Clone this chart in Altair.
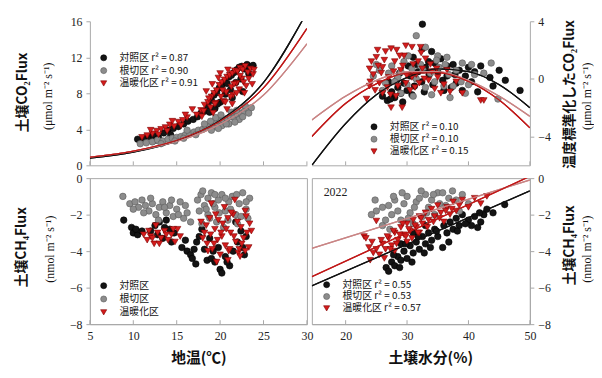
import altair as alt
import pandas as pd

GROUPS = ["対照区", "根切区", "温暖化区"]

# ---------------- Top-left: soil temperature vs soil CO2 flux ----------------
tl_ctrl_x = [10.5, 11.2, 11.8, 12.3, 12.9, 13.5, 14.0, 14.6, 15.2, 15.8, 16.3, 16.9, 17.4, 17.8,
             18.2, 18.6, 19.0, 19.3, 19.6, 19.9, 20.2, 20.5, 20.8, 21.0, 21.3, 21.6, 21.9, 22.2,
             22.5, 22.8, 23.1, 23.4, 23.8, 20.0, 20.6, 21.2, 21.8, 22.4, 19.4, 18.8,
             19.7, 21.4, 22.6, 23.3, 12.6, 14.3]
tl_ctrl_y = [2.9, 3.0, 3.2, 3.3, 3.1, 3.6, 3.9, 4.1, 4.3, 4.6, 4.9, 5.1, 5.4, 5.8,
             6.0, 6.6, 7.2, 7.8, 8.1, 8.6, 8.9, 9.3, 9.1, 9.8, 10.0, 10.3, 10.6, 10.9,
             11.0, 10.7, 11.2, 10.9, 11.1, 7.0, 7.9, 8.4, 9.2, 9.6, 6.3, 5.9,
             6.8, 7.5, 8.2, 10.2, 2.8, 3.4]
tl_root_x = [10.8, 11.5, 12.2, 12.8, 13.4, 14.0, 14.5, 15.0, 15.5, 16.0, 16.5, 17.0, 17.5, 18.0,
             18.4, 18.8, 19.2, 19.6, 20.0, 20.4, 20.8, 21.2, 21.6, 22.0, 22.4, 22.8, 23.2, 23.6,
             19.0, 20.2, 21.0, 22.2, 17.2, 15.8,
             18.2, 18.9, 19.5, 20.1, 20.7, 21.3, 21.9, 22.6, 23.3, 19.8, 21.7, 22.9, 13.2, 14.8, 16.2]
tl_root_y = [2.4, 2.5, 2.6, 2.8, 2.7, 2.9, 3.0, 3.1, 3.2, 3.4, 3.5, 3.7, 3.9, 4.0,
             4.2, 4.4, 4.3, 4.7, 4.9, 5.0, 5.2, 5.4, 5.3, 5.6, 5.8, 6.0, 6.2, 6.4,
             3.9, 4.4, 4.6, 5.1, 3.4, 3.0,
             4.6, 4.9, 5.3, 5.6, 4.6, 5.9, 6.1, 5.4, 5.8, 4.1, 4.8, 6.6, 2.4, 2.7, 3.9]
tl_warm_x = [11.0, 11.6, 12.2, 12.7, 13.2, 13.7, 14.2, 14.7, 15.2, 15.7, 16.2, 16.8, 17.3, 17.8,
             18.2, 18.6, 19.0, 19.3, 19.6, 19.9, 20.2, 20.5, 20.8, 21.1, 21.4, 21.7, 22.0, 22.3,
             22.6, 22.9, 23.2, 23.5, 23.8, 19.5, 20.1, 20.7, 21.3, 21.9, 22.5, 18.9, 20.4, 21.5, 22.2,
             18.4, 18.7, 19.1, 19.4, 19.8, 20.0, 20.3, 20.6, 20.9, 21.2, 21.6, 21.9, 22.3, 22.7,
             23.0, 23.3, 23.7, 19.2, 20.8, 21.4, 22.8, 23.9, 17.9, 18.1,
             12.0, 12.9, 13.9, 14.5, 15.5, 16.0]
tl_warm_y = [3.1, 3.3, 3.5, 3.8, 4.0, 4.2, 4.5, 4.3, 4.8, 5.0, 5.3, 6.2, 5.6, 6.1,
             6.7, 7.0, 7.6, 8.0, 8.3, 8.9, 9.2, 9.5, 9.8, 10.0, 10.2, 10.5, 10.4, 10.8,
             10.6, 11.0, 10.3, 10.7, 10.1, 6.9, 7.6, 8.1, 8.7, 9.1, 9.6, 6.4, 7.1, 7.8, 8.4,
             8.2, 7.4, 9.0, 6.8, 9.7, 10.2, 8.3, 7.0, 10.6, 7.6, 9.0, 8.0, 9.9, 9.2,
             8.8, 9.6, 9.0, 5.8, 6.2, 6.8, 8.0, 10.6, 5.4, 6.0,
             3.9, 3.4, 3.8, 4.9, 4.4, 5.6]
tl_fit_x = [5, 10, 15, 20, 25, 30]
tl_fit_ctrl = [0.8, 1.47, 2.7, 5.0, 9.2, 17.0]
tl_fit_root = [0.9, 1.55, 2.65, 4.55, 7.8, 13.5]
tl_fit_warm = [0.9, 1.58, 2.78, 4.9, 8.6, 15.2]
tl_legend = ["対照区 r² = 0.87", "根切区 r² = 0.90", "温暖化区 r² = 0.91"]

# ---------------- Top-right: soil moisture vs normalised CO2 flux ----------------
tr_ctrl_x = [32.5, 32.5, 34.0, 31.0, 33.5, 35.5, 36.5, 37.5, 38.5, 40.0, 42.0, 43.5, 46.0, 48.4, 45.0,
             26.0, 26.8, 27.5, 28.0, 28.5, 29.0, 29.5, 30.0, 30.5, 31.2, 31.8, 32.4, 33.0, 33.6,
             34.2, 35.0, 35.8, 36.5, 37.2, 38.0, 39.0, 40.5, 41.5, 27.0, 28.8, 30.2,
             27.3, 28.3, 29.3, 30.8, 31.5, 32.8, 34.5, 36.0, 37.8, 39.5, 41.0, 44.0]
tr_ctrl_y = [3.8, 2.1, 1.9, 1.5, 1.2, 1.4, 0.9, 1.0, 0.6, 0.8, 0.9, 0.1, -0.1, -0.8, 0.6,
             -1.2, -1.5, -0.9, -1.3, -0.6, -1.0, -0.3, -0.8, 0.2, -0.5, 0.5, -0.2, 0.8, 0.3,
             -0.4, 0.5, -0.1, 0.2, -0.6, -0.3, -0.8, -0.2, -0.9, -0.2, 0.4, 0.9,
             -1.4, -0.1, -1.6, -1.1, 1.0, -0.9, 1.1, -0.8, 0.3, 0.2, 0.5, -0.5]
tr_root_x = [31.5, 33.0, 35.0, 36.5, 39.0, 43.7, 41.0, 44.8, 37.5,
             24.5, 25.5, 26.5, 27.5, 28.5, 29.5, 30.0, 30.8, 31.5, 32.2, 33.0, 33.8, 34.5,
             35.2, 36.0, 36.8, 38.0, 38.8, 40.0, 29.0, 31.0, 34.0, 39.5,
             25.0, 26.0, 27.0, 28.0, 29.0, 30.2, 32.6, 34.8, 36.2, 37.0, 40.5, 42.5]
tr_root_y = [3.0, 2.2, 1.6, 1.5, 1.1, 1.1, 0.3, -1.4, -0.5,
             0.2, 0.6, -0.3, 0.9, 0.1, 1.2, -0.4, 0.7, 0.0, 1.0, -0.6, 0.4, -0.2,
             0.8, -0.5, 0.3, 0.6, -0.2, -0.4, -1.0, -1.2, -1.1, -1.0,
             1.0, -0.8, 0.4, -0.2, 0.5, 1.6, 0.6, 1.3, 1.0, -1.3, 1.0, 0.4]
tr_warm_x = [23.4, 23.9, 23.9, 24.5, 25.0, 25.5, 26.0, 26.5, 27.0, 27.4, 27.4, 28.0, 28.5, 29.0,
             29.2, 29.5, 30.0, 30.5, 31.0, 31.5, 32.0, 32.5, 33.0, 33.5, 34.0, 34.5, 35.0, 36.0,
             37.0, 38.0, 39.0, 42.0, 42.5, 25.2, 26.0, 28.2, 24.2, 30.8, 36.5,
             24.8, 25.8, 26.8, 27.8, 28.8, 29.8, 30.8, 31.8, 32.8, 33.8, 26.3, 27.3, 28.3, 29.3,
             31.3, 32.3, 25.3, 34.8, 35.5, 24.0, 29.8, 32.2]
tr_warm_y = [-1.4, -0.5, 0.7, 0.3, 1.5, -0.3, 0.8, 1.9, 0.1, 2.1, -2.0, 1.2, -0.5, 0.6,
             -2.0, 1.6, 0.2, -0.8, 1.0, 0.3, -0.3, 0.7, 1.4, -0.1, 0.5, -0.7, 0.1, -0.4,
             -0.9, -0.2, -1.0, -1.5, -1.5, 2.0, -1.0, -1.2, 1.2, 2.2, 0.6,
             -0.8, 0.4, -0.6, 0.5, 1.6, -0.3, 0.1, 1.2, 0.0, 1.0, 1.3, -1.1, 2.0, 0.9,
             -0.6, 1.8, 0.9, 0.7, -1.0, -0.2, 2.3, 2.2]
tr_fit_x = [14.5, 20, 25, 30, 35, 40, 45, 50]
tr_fit_ctrl = [-6.0, -3.1, -1.1, 0.1, 0.7, 0.5, -0.4, -2.0]
tr_fit_root = [-2.85, -1.2, -0.1, 0.5, 0.5, -0.1, -1.2, -2.6]
tr_fit_warm = [-4.0, -1.7, -0.34, 0.39, 0.44, -0.18, -1.47, -3.4]
tr_legend = ["対照区 r² = 0.10", "根切区 r² = 0.10", "温暖化区 r² = 0.15"]

# ---------------- Bottom-left: soil temperature vs soil CH4 flux ----------------
bl_ctrl_x = [8.9, 9.8, 10.0, 10.5, 11.0, 10.3, 12.0, 12.5, 13.0, 13.4, 13.8, 14.2, 14.7,
             15.6, 16.2, 16.6, 16.8, 17.0, 17.3, 17.6, 17.9, 18.5, 19.0, 19.4, 20.0, 20.2,
             21.1, 20.6, 19.8, 18.8, 21.5, 22.0, 22.6, 23.0, 22.4, 21.8, 18.2,
             12.8, 13.6, 14.4, 16.0, 17.2, 19.2, 20.8, 22.8]
bl_ctrl_y = [-2.3, -2.7, -3.0, -3.1, -2.9, -2.8, -2.9, -2.6, -2.4, -3.3, -2.3, -2.8, -3.0,
             -3.8, -4.0, -4.2, -4.4, -3.9, -3.5, -3.2, -2.8, -4.5, -4.4, -4.6, -5.0, -5.2,
             -4.8, -4.3, -3.8, -3.3, -4.0, -3.5, -3.8, -3.2, -2.9, -2.4, -3.9,
             -3.1, -2.7, -3.5, -3.4, -4.7, -4.0, -4.6, -4.2]
bl_root_x = [8.8, 9.6, 10.2, 10.6, 11.0, 11.4, 11.8, 12.2, 12.6, 13.0, 13.4, 13.8, 14.2, 14.6,
             15.0, 15.4, 15.8, 16.2, 16.6, 17.4, 17.8, 18.2, 18.6, 19.0, 19.4, 19.8, 20.2,
             20.6, 21.0, 21.4, 21.8, 22.2, 22.6, 23.0, 23.4, 18.6, 19.6, 20.4, 22.0, 23.2,
             17.6, 18.0, 18.8, 19.2, 19.9, 20.6, 21.2, 21.9, 22.4, 23.0, 20.9, 19.4, 18.4, 17.9,
             10.0, 11.2, 12.0, 12.9, 13.6, 14.4, 15.2, 16.0]
bl_root_y = [-1.0, -1.4, -1.3, -1.6, -1.2, -1.5, -1.8, -1.4, -2.0, -1.6, -1.3, -1.9, -1.5, -2.1,
             -1.7, -1.3, -2.2, -1.9, -2.4, -1.2, -0.9, -1.5, -1.1, -0.8, -1.6, -1.2, -0.9,
             -1.8, -1.3, -1.0, -2.0, -1.4, -0.8, -1.7, -1.1, -2.0, -2.4, -2.7, -2.5, -2.2,
             -1.8, -0.7, -2.2, -1.4, -1.9, -1.1, -1.7, -0.9, -2.1, -1.3, -2.3, -0.9, -1.7, -2.5,
             -1.7, -1.9, -1.1, -2.3, -1.6, -1.2, -2.0, -1.5]
bl_warm_x = [11.2, 11.6, 12.0, 12.4, 12.8, 13.2, 13.6, 14.0, 14.4, 14.8, 15.1, 12.6,
             17.8, 18.2, 18.5, 18.8, 19.1, 19.4, 19.7, 20.0, 20.3, 20.6, 20.9, 21.2, 21.5,
             21.8, 22.1, 22.4, 22.7, 23.0, 23.3, 23.6, 19.0, 20.5, 21.7, 22.9, 19.6, 21.0, 22.2,
             18.0, 18.4, 18.9, 19.3, 19.8, 20.2, 20.7, 21.1, 21.6, 22.0, 22.5, 22.9, 23.4,
             19.5, 20.9, 22.3, 21.3, 18.6, 20.1, 23.1,
             11.8, 12.2, 13.0, 13.8, 14.6, 15.4]
bl_warm_y = [-3.1, -3.4, -3.2, -3.6, -3.0, -3.3, -2.9, -3.4, -3.1, -3.5, -2.8, -2.6,
             -2.4, -3.0, -3.6, -2.2, -3.9, -2.8, -3.4, -4.2, -2.5, -3.7, -4.5, -3.0, -2.0,
             -3.5, -4.1, -2.7, -3.3, -2.1, -3.8, -2.9, -1.4, -1.6, -1.2, -1.8, -4.6, -4.0, -3.9,
             -3.3, -2.6, -3.1, -3.6, -2.3, -3.2, -2.8, -3.9, -3.2, -2.4, -3.6, -4.0, -2.5,
             -2.0, -2.2, -4.3, -1.9, -4.0, -3.0, -3.0,
             -2.9, -3.3, -3.6, -3.1, -2.8, -3.2]
bl_legend = ["対照区", "根切区", "温暖化区"]

# ---------------- Bottom-right: soil moisture vs soil CH4 flux ----------------
br_ctrl_x = [26.6, 27.0, 27.5, 28.0, 28.5, 29.0, 29.5, 30.0, 30.5, 31.0, 31.5, 32.0, 32.5, 33.0,
             33.5, 34.0, 34.5, 35.0, 35.8, 36.0, 36.5, 37.0, 37.5, 38.0, 38.5, 39.0, 40.0,
             40.5, 41.0, 41.5, 42.0, 42.5, 43.0, 44.0, 45.9, 29.0, 31.0, 33.0,
             27.8, 28.8, 29.8, 30.8, 31.8, 32.8, 33.8, 34.8, 36.8, 38.2, 39.5, 41.8]
br_ctrl_y = [-4.9, -5.1, -4.6, -4.8, -4.3, -4.5, -4.0, -4.4, -3.7, -4.1, -3.5, -3.9, -3.2, -3.6,
             -3.0, -3.4, -2.8, -3.2, -3.8, -2.6, -3.0, -2.4, -2.8, -2.2, -2.6, -2.0, -2.3,
             -2.6, -2.1, -2.7, -2.4, -2.0, -1.7, -1.9, -1.45, -3.6, -3.0, -2.6,
             -4.2, -4.9, -3.6, -4.6, -3.2, -4.1, -3.8, -2.9, -3.5, -2.9, -2.5, -1.9]
br_root_x = [25.0, 26.0, 27.0, 27.5, 28.0, 28.5, 29.0, 29.5, 30.0, 30.5, 31.0, 31.5, 32.0, 32.5,
             33.0, 33.5, 34.0, 34.5, 35.0, 35.8, 36.3, 37.4, 38.0, 38.5, 39.0, 40.0, 26.0, 24.8,
             26.5, 27.8, 29.2, 30.2, 31.2, 32.3, 33.2, 34.3, 35.3, 36.8, 27.2, 24.2]
br_root_y = [-1.8, -1.6, -1.5, -2.0, -1.2, -1.8, -2.3, -1.4, -1.0, -1.9, -2.5, -1.3, -1.1, -2.1,
             -0.9, -1.6, -1.2, -2.0, -0.8, -0.8, -1.5, -0.7, -1.2, -1.8, -0.9, -1.4, -2.6, -1.2,
             -2.3, -1.0, -0.8, -2.2, -1.6, -0.7, -1.9, -0.9, -1.4, -1.1, -2.8, -2.0]
br_warm_x = [23.0, 23.3, 24.0, 24.5, 25.0, 25.0, 25.5, 26.0, 26.5, 27.0, 27.5, 28.0, 28.5, 29.0,
             29.5, 30.0, 30.5, 31.0, 31.5, 32.0, 32.5, 33.0, 33.5, 34.0, 34.5, 35.0, 35.5,
             36.0, 36.5, 37.0, 37.5, 38.0, 39.0, 40.0, 41.0, 42.0, 43.0, 28.0, 30.0, 32.0,
             23.8, 24.3, 25.8, 26.3, 26.8, 27.3, 27.8, 28.3, 28.8, 29.3, 29.8, 30.3, 30.8,
             31.3, 31.8, 32.3, 33.3, 34.3, 35.3, 36.3, 37.3, 38.5]
br_warm_y = [-3.2, -3.3, -4.5, -4.1, -2.35, -3.9, -4.2, -3.6, -3.9, -3.3, -3.7, -3.0, -3.4, -2.7,
             -3.1, -2.5, -2.9, -2.3, -2.7, -2.1, -2.5, -1.9, -2.3, -1.7, -2.1, -1.5, -1.9,
             -2.4, -1.6, -2.0, -1.3, -1.8, -1.2, -1.6, -1.1, -1.4, -1.0, -4.0, -3.5, -3.0,
             -3.8, -3.5, -3.4, -4.4, -3.2, -3.9, -2.9, -3.6, -3.1, -2.5, -3.2, -2.8, -3.3,
             -2.6, -3.0, -2.2, -2.7, -2.4, -2.2, -1.8, -1.7, -1.5]
br_fit_x = [14.5, 50]
br_fit_ctrl = [-5.9, -0.7]
br_fit_root = [-3.85, -0.1]
br_fit_warm = [-5.4, 0.1]
br_legend = ["対照区 r² = 0.55", "根切区 r² = 0.53", "温暖化区 r² = 0.57"]

temp_ticks = [5, 10, 15, 20, 25, 30]
moist_ticks = [20, 30, 40, 50]

# ---------------- styling ----------------
AXC = "#a8a8a8"
JP = "Noto Sans CJK JP"
SERIF = "Liberation Serif"
FILL = ["#141414", "#8c8c8c", "#d41c1c"]
STROKE = ["#000000", "#5a5a5a", "#7d0000"]
SHAPES = ["circle", "circle", "triangle-down"]
LINEC = ["#111111", "#c98585", "#c01818"]


def scatter_frame(xs, ys):
    rows = []
    for g, xv, yv in zip(GROUPS, xs, ys):
        rows += [{"x": a, "y": b, "g": g} for a, b in zip(xv, yv)]
    return pd.DataFrame(rows)


def fit_frame(xv, ys):
    rows = []
    for g, yv in zip(GROUPS, ys):
        rows += [{"x": a, "y": b, "g": g} for a, b in zip(xv, yv)]
    return pd.DataFrame(rows)


def panel(pts, fit, xdom, ydom, xvals, yvals, yorient, xlabels, xtitle, w, h,
          leg, leg_labels, titles, frame, note=None, xtitle_x=None):
    xax = dict(values=xvals, labels=xlabels, ticks=False, domainColor=AXC, domainWidth=1,
               grid=False, labelFlush=False, labelFont=SERIF, labelFontSize=12,
               labelColor="#222", labelPadding=7, title=xtitle, titleFont=JP,
               titleFontSize=15, titleFontWeight="bold", titleColor="#111", titlePadding=9)
    if xtitle_x is not None:
        xax["titleX"] = xtitle_x
    yax = dict(values=yvals, orient=yorient, tickSize=4, tickColor=AXC, domainColor=AXC,
               grid=False, labelFont=SERIF, labelFontSize=12, labelColor="#222",
               labelPadding=4, title="")
    X = alt.X("x:Q", scale=alt.Scale(domain=xdom, nice=False, zero=False), axis=alt.Axis(**xax))
    Y = alt.Y("y:Q", scale=alt.Scale(domain=ydom, nice=False, zero=False), axis=alt.Axis(**yax))
    layers = []
    if fit is not None:
        layers.append(alt.Chart(fit).mark_line(strokeWidth=1.4, clip=True, interpolate="monotone").encode(
            x=X, y=Y,
            color=alt.Color("g:N", scale=alt.Scale(domain=GROUPS, range=LINEC)),
            detail="g:N"))
    layers.append(alt.Chart(pts).mark_point(filled=True, size=44, strokeWidth=0.6, opacity=1).encode(
        x=X, y=Y,
        fill=alt.Fill("g:N", scale=alt.Scale(domain=GROUPS, range=FILL)),
        stroke=alt.Stroke("g:N", scale=alt.Scale(domain=GROUPS, range=STROKE)),
        shape=alt.Shape("g:N", scale=alt.Scale(domain=GROUPS, range=SHAPES))))
    if fit is not None:
        layers.append(alt.Chart(fit).mark_line(strokeWidth=1.2, clip=True, interpolate="monotone").encode(
            x=X, y=Y,
            color=alt.Color("g:N", scale=alt.Scale(domain=GROUPS, range=LINEC)),
            detail="g:N"))
    # inward x ticks
    layers.append(alt.Chart(pd.DataFrame({"x": xvals})).mark_rule(color=AXC).encode(
        x="x:Q", y=alt.value(h), y2=alt.value(h - 4)))
    lx, ly, dy, tx = leg
    for i in range(3):
        layers.append(alt.Chart(pd.DataFrame({"g": [GROUPS[i]]})).mark_point(
            filled=True, size=38, shape=SHAPES[i], fill=FILL[i], stroke=STROKE[i],
            strokeWidth=0.6, opacity=1).encode(x=alt.value(lx), y=alt.value(ly + i * dy)))
        layers.append(alt.Chart(pd.DataFrame({"t": [leg_labels[i]]})).mark_text(
            align="left", baseline="middle", font=JP, fontSize=10, color="#111").encode(
            x=alt.value(tx), y=alt.value(ly + i * dy), text="t:N"))
    for txt, px, py, font, size, weight in titles:
        layers.append(alt.Chart(pd.DataFrame({"t": [txt]})).mark_text(
            angle=270, align="center", baseline="middle", font=font, fontSize=size,
            fontWeight=weight, color="#111").encode(x=alt.value(px), y=alt.value(py), text="t:N"))
    if note:
        layers.append(alt.Chart(pd.DataFrame({"t": [note]})).mark_text(
            align="left", baseline="middle", font=SERIF, fontSize=12, color="#222").encode(
            x=alt.value(12), y=alt.value(14), text="t:N"))
    view = alt.ViewBackground(stroke=AXC, strokeWidth=1) if frame else alt.ViewBackground(strokeWidth=0)
    return alt.layer(*layers).properties(width=w, height=h, view=view)


W1, W2, H1, H2 = 220, 221, 146, 148

tl = panel(scatter_frame([tl_ctrl_x, tl_root_x, tl_warm_x], [tl_ctrl_y, tl_root_y, tl_warm_y]),
           fit_frame(tl_fit_x, [tl_fit_ctrl, tl_fit_root, tl_fit_warm]),
           [5, 30], [0, 16], temp_ticks, [0, 4, 8, 12, 16], "left", False, "", W1, H1,
           (14, 37, 13, 30), tl_legend,
           [("土壌CO₂Flux", -68, 72, JP, 14, "bold"), ("(μmol m⁻² s⁻¹)", -42, 76, SERIF, 12, "normal")],
           False)

tr = panel(scatter_frame([tr_ctrl_x, tr_root_x, tr_warm_x], [tr_ctrl_y, tr_root_y, tr_warm_y]),
           fit_frame(tr_fit_x, [tr_fit_ctrl, tr_fit_root, tr_fit_warm]),
           [14.5, 50], [-6, 4], moist_ticks, [-4, 0, 4], "right", False, "", W2, H1,
           (63, 107, 12.5, 79), tr_legend,
           [("温度標準化したCO₂Flux", 262, 74, JP, 14, "bold"), ("(μmol m⁻² s⁻¹)", 279, 76, SERIF, 12, "normal")],
           False)

bl = panel(scatter_frame([bl_ctrl_x, bl_root_x, bl_warm_x], [bl_ctrl_y, bl_root_y, bl_warm_y]),
           None, [5, 30], [-8, 0], temp_ticks, [-8, -6, -4, -2, 0], "left", True, "地温(℃)", W1, H2,
           (14, 109, 13.5, 30), bl_legend,
           [("土壌CH₄Flux", -69, 70, JP, 14, "bold"), ("(nmol m⁻² s⁻¹)", -40, 72, SERIF, 12, "normal")],
           True)

br = panel(scatter_frame([br_ctrl_x, br_root_x, br_warm_x], [br_ctrl_y, br_root_y, br_warm_y]),
           fit_frame(br_fit_x, [br_fit_ctrl, br_fit_root, br_fit_warm]),
           [14.5, 50], [-8, 0], moist_ticks, [-8, -6, -4, -2, 0], "right", True, "土壌水分(%)", W2, H2,
           (15, 108, 12, 31), br_legend,
           [("土壌CH₄Flux", 262, 68, JP, 14, "bold"), ("(nmol m⁻² s⁻¹)", 279, 72, SERIF, 12, "normal")],
           True, note="2022", xtitle_x=120)

chart = alt.concat(tl, tr, bl, br, columns=2, spacing={"row": 13, "column": 5}, bounds="flush",
                   padding={"left": 6, "top": 5, "right": 0, "bottom": 0}).configure_legend(disable=True)

chart.save("out.html", embed_options={"renderer": "svg", "actions": False})
